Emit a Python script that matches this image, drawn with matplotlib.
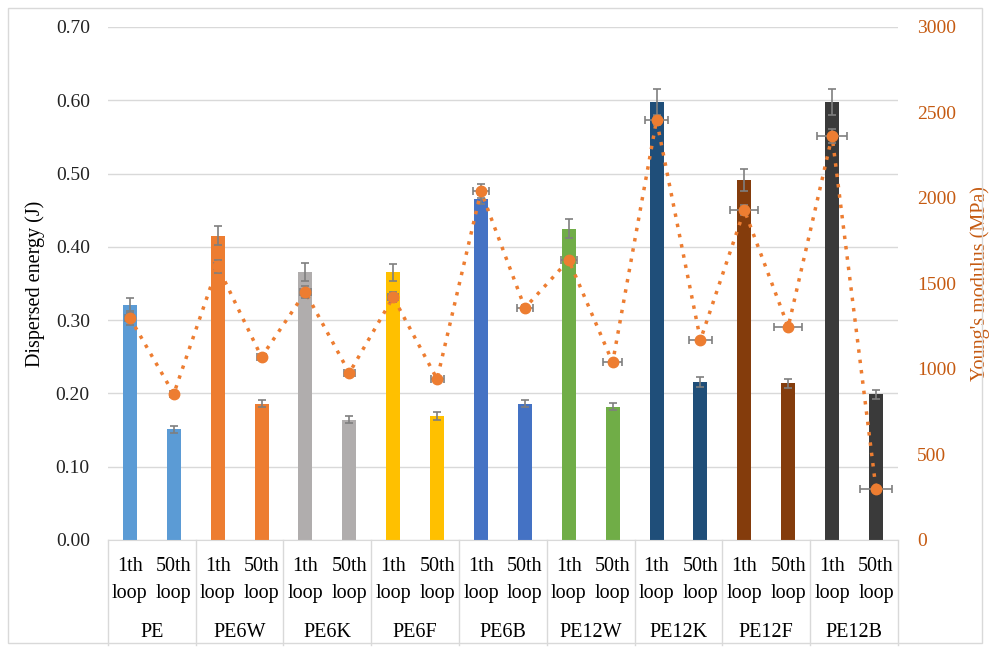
import numpy as np
import matplotlib.pyplot as plt
import matplotlib.transforms as mtransforms
from matplotlib.patches import Rectangle

plt.rcParams['font.family'] = ['Liberation Serif', 'DejaVu Serif']

groups = ["PE", "PE6W", "PE6K", "PE6F", "PE6B", "PE12W", "PE12K", "PE12F", "PE12B"]
loops = ["1th", "50th"]
colors = ["#5B9BD5", "#ED7D31", "#B0ADAD", "#FFC000", "#4472C4",
          "#70AD47", "#1F4E79", "#843C0C", "#3A3A3A"]

# dispersed energy (J), 1th / 50th loop
energy_1 = [0.320, 0.415, 0.366, 0.365, 0.465, 0.425, 0.597, 0.491, 0.598]
energy_50 = [0.151, 0.186, 0.164, 0.169, 0.186, 0.182, 0.216, 0.214, 0.199]
energy_err_1 = [0.010, 0.013, 0.012, 0.012, 0.006, 0.013, 0.018, 0.015, 0.018]
energy_err_50 = [0.005, 0.005, 0.005, 0.005, 0.005, 0.005, 0.007, 0.006, 0.006]

# Young's modulus (MPa), 1th / 50th loop
modulus_1 = [1300, 1600, 1450, 1420, 2040, 1637, 2456, 1930, 2363]
modulus_50 = [854, 1070, 977, 941, 1357, 1038, 1170, 1246, 300]
modulus_err_1 = [40, 40, 35, 30, 40, 20, 30, 30, 40]
modulus_err_50 = [15, 15, 10, 10, 15, 10, 10, 10, 10]
modulus_xerr_1 = [0.10, 0.08, 0.12, 0.12, 0.18, 0.18, 0.27, 0.32, 0.34]
modulus_xerr_50 = [0.08, 0.10, 0.12, 0.15, 0.18, 0.22, 0.27, 0.32, 0.36]

n = len(groups)
x1 = np.arange(n) * 2 + 0.5
x50 = x1 + 1
x_all = np.ravel(np.column_stack([x1, x50]))
energy = np.ravel(np.column_stack([energy_1, energy_50]))
energy_err = np.ravel(np.column_stack([energy_err_1, energy_err_50]))
bar_colors = np.repeat(colors, 2)
modulus = np.ravel(np.column_stack([modulus_1, modulus_50]))
modulus_err = np.ravel(np.column_stack([modulus_err_1, modulus_err_50]))
modulus_xerr = np.ravel(np.column_stack([modulus_xerr_1, modulus_xerr_50]))

fig = plt.figure(figsize=(9.9, 6.47), dpi=100)
fig.add_artist(Rectangle((0.008, 0.006), 0.984, 0.982, transform=fig.transFigure,
                         fill=False, edgecolor="#D9D9D9", lw=1))
ax = fig.add_axes([0.109, 0.1654, 0.798, 0.7929])
grid_color = "#D9D9D9"

ax.bar(x_all, energy, width=0.32, color=bar_colors, zorder=2,
       yerr=energy_err, error_kw=dict(ecolor="#7F7F7F", elinewidth=1.2, capsize=3, capthick=1.2))
ax.set_xlim(0, 2 * n)
ax.set_ylim(0, 0.70)
ax.set_yticks(np.arange(0, 0.71, 0.1))
ax.set_yticklabels([f"{v:.2f}" for v in np.arange(0, 0.71, 0.1)])
ax.yaxis.grid(True, color=grid_color, lw=1)
ax.set_axisbelow(True)
for s in ["left", "right", "top"]:
    ax.spines[s].set_visible(False)
ax.spines["bottom"].set_color(grid_color)
ax.tick_params(axis="y", length=0, pad=13, labelsize=14, colors="#222222")
ax.set_ylabel("Dispersed energy (J)", fontsize=14.5, labelpad=8)

# two-level category axis
ax.set_xticks([])
trans = mtransforms.blended_transform_factory(ax.transData, ax.transAxes)
for i in range(n):
    for xi, lab in zip([x1[i], x50[i]], loops):
        ax.text(xi, -0.0526, lab, transform=trans, ha="center", va="center", fontsize=14.5)
        ax.text(xi, -0.105, "loop", transform=trans, ha="center", va="center", fontsize=14.5)
    ax.text(2 * i + 1, -0.181, groups[i], transform=trans, ha="center", va="center",
            fontsize=14.5)
for b in range(n + 1):
    ax.plot([2 * b, 2 * b], [0, -0.205], transform=trans, color=grid_color,
            lw=1, clip_on=False)

ax2 = ax.twinx()
ax2.set_ylim(0, 3000)
ax2.set_yticks(np.arange(0, 3001, 500))
for s in ["left", "right", "top", "bottom"]:
    ax2.spines[s].set_visible(False)
ax2.tick_params(axis="y", length=0, pad=14, labelsize=14, colors="#C55A11")
ax2.set_ylabel("Young's modulus (MPa)", fontsize=14.5, color="#C55A11", labelpad=10)

ax2.plot(x_all, modulus, linestyle=(0, (1, 2)), color="#ED7D31", lw=2.5, zorder=3)
ax2.errorbar(x_all, modulus, yerr=modulus_err, xerr=modulus_xerr, fmt="o",
             color="#ED7D31", markersize=7.5, ecolor="#7F7F7F", elinewidth=1.2,
             capsize=3, capthick=1.2, zorder=4)

fig.savefig("out.png", dpi=100)
